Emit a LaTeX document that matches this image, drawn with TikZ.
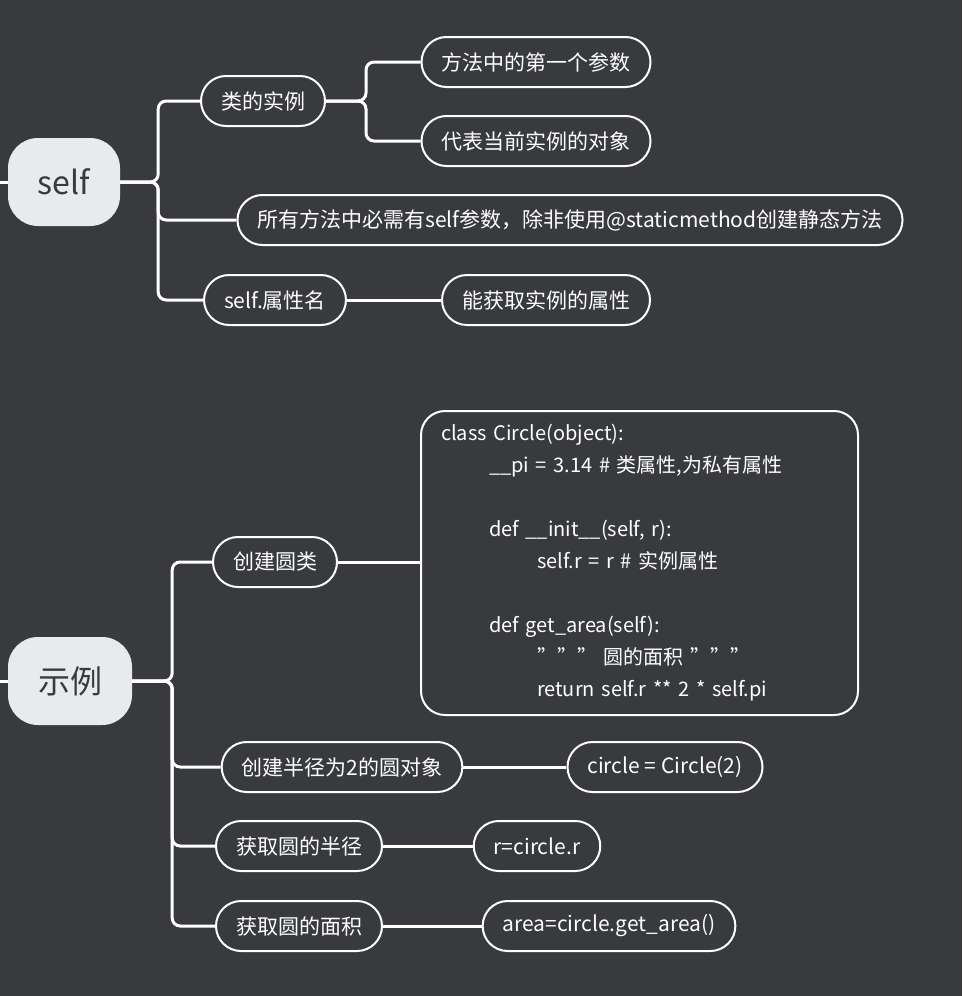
\documentclass[tikz,border=0pt]{standalone}
\usepackage{fontspec}
\setmainfont{Noto Sans CJK SC}
\usetikzlibrary{positioning}
\definecolor{bgc}{HTML}{383A3E}
\definecolor{rootc}{HTML}{E9EAEC}
\begin{document}
\begin{tikzpicture}[x=1pt,y=-1pt,
rootnode/.style={rectangle, rounded corners=30pt, fill=rootc, text=bgc, font=\fontsize{32}{36}\selectfont, minimum height=88pt, inner xsep=0pt},
leafnode/.style={rectangle, rounded corners=25pt, draw=white, line width=2pt, text=white, font=\fontsize{21}{25}\selectfont, minimum height=50pt, inner xsep=20pt},
link/.style={draw=white, line width=3pt, rounded corners=8pt},
]
\fill[bgc] (0,0) rectangle (962,996);
\useasboundingbox (0,0) rectangle (962,996);

%Nodes self
\node[rootnode, minimum width=112pt] (self) at (64,182) {self};
\node[leafnode] (inst) at (263,101) {类的实例};
\node[leafnode] (first) at (536,62) {方法中的第一个参数};
\node[leafnode] (cur) at (536,141) {代表当前实例的对象};
\node[leafnode] (all) at (570,220) {所有方法中必需有self参数，除非使用@staticmethod创建静态方法};
\node[leafnode] (attr) at (275,300) {self.属性名};
\node[leafnode] (get) at (546,300) {能获取实例的属性};

%Nodes example
\node[rootnode, minimum width=124pt] (demo) at (70,681) {示例};
\node[leafnode] (cls) at (275,562) {创建圆类};
\node[leafnode, rounded corners=24pt, anchor=north west, text width=397pt, inner sep=0pt, inner xsep=20pt, inner ysep=10pt, minimum height=304pt, align=left, font=\fontsize{20}{32}\selectfont] (code) at (420,410) {%
class Circle(object):\\
\hspace*{48pt}\_\_pi = 3.14 \# 类属性,为私有属性\\
\mbox{}\\
\hspace*{48pt}def \_\_init\_\_(self, r):\\
\hspace*{96pt}self.r = r \# 实例属性\\
\mbox{}\\
\hspace*{48pt}def get\_area(self):\\
\hspace*{96pt}""" 圆的面积 """\\
\hspace*{96pt}return self.r ** 2 * self.pi};
\node[leafnode] (obj) at (342,767) {创建半径为2的圆对象};
\node[leafnode] (objv) at (665,767) {circle = Circle(2)};
\node[leafnode] (rad) at (299,846) {获取圆的半径};
\node[leafnode] (radv) at (537,846) {r=circle.r};
\node[leafnode] (area) at (299,926) {获取圆的面积};
\node[leafnode] (areav) at (609,926) {area=circle.get\_area()};

%Lines
\draw[link] (0,182) -- (self.west);
\draw[link] (0,681) -- (demo.west);
\foreach \n in {inst,all,attr}
  \draw[link] (self.east) -- ++(38,0) |- (\n.west);
\foreach \n in {first,cur}
  \draw[link] (inst.east) -- ++(40,0) |- (\n.west);
\draw[link] (attr) -- (get);
\foreach \n in {cls,obj,rad,area}
  \draw[link] (demo.east) -- ++(40,0) |- (\n.west);
\draw[link] (cls.east) -- (cls.east -| code.west);
\draw[link] (obj) -- (objv);
\draw[link] (rad) -- (radv);
\draw[link] (area) -- (areav);
\end{tikzpicture}
\end{document}
